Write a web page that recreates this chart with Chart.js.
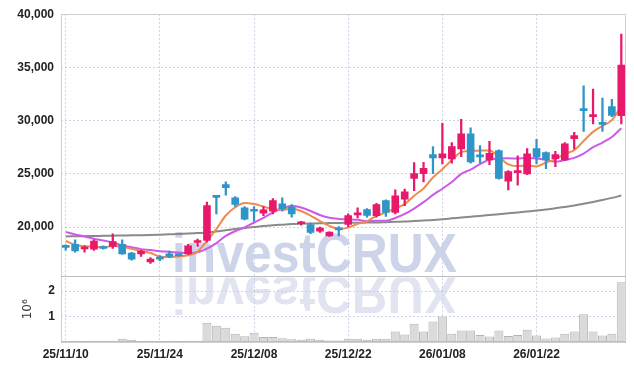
<!DOCTYPE html>
<html><head><meta charset="utf-8">
<script src="https://cdn.jsdelivr.net/npm/chart.js@4.4.1/dist/chart.umd.min.js"></script>
<style>html,body{margin:0;padding:0;background:#fff}#wrap{width:634px;height:370px}</style>
</head><body><div id="wrap"><canvas id="c" width="634" height="370"></canvas></div>
<script>
const dates = ['25/11/10','25/11/11','25/11/12','25/11/13','25/11/14','25/11/17','25/11/18','25/11/19','25/11/20','25/11/21','25/11/24','25/11/25','25/11/26','25/11/27','25/11/28','25/12/01','25/12/02','25/12/03','25/12/04','25/12/05','25/12/08','25/12/09','25/12/10','25/12/11','25/12/12','25/12/15','25/12/16','25/12/17','25/12/18','25/12/19','25/12/22','25/12/23','25/12/24','25/12/26','25/12/29','25/12/30','26/01/02','26/01/05','26/01/06','26/01/07','26/01/08','26/01/09','26/01/12','26/01/13','26/01/14','26/01/15','26/01/16','26/01/19','26/01/20','26/01/21','26/01/22','26/01/23','26/01/26','26/01/27','26/01/28','26/01/29','26/01/30','26/02/02','26/02/03','26/02/04'];
const opens  = [18150,18380,17950,17940,18190,18190,18380,17560,17500,16750,17190,17500,17440,17500,18560,18750,22940,24000,22760,21820,21630,21310,21500,22190,21880,20320,20250,19630,19190,19850,20250,21150,21660,21070,22500,21380,22630,24570,25030,26820,26510,26420,27350,28760,26760,26320,27190,24320,25130,25000,27380,27000,26440,26320,28320,31130,30380,29820,31320,30470];
const highs  = [18350,18820,18250,18820,18250,19380,18820,17650,17820,17150,17300,17750,17500,18400,18880,22350,23000,24260,22880,21940,21940,21940,22690,22760,22130,20560,20380,20000,19560,20060,21250,21820,21750,22250,22570,23510,23570,26070,26100,27570,29760,27950,30130,29320,27660,28070,27260,25320,26700,27380,28250,27070,27130,27950,28910,33280,32970,32130,32000,38130];
const lows   = [17850,17650,17650,17820,17930,18000,17440,16900,17250,16600,16850,17130,17250,17440,18190,18600,21250,23000,21940,20690,20560,21070,21250,21500,20940,20190,19380,19500,19130,19190,20060,20880,20940,20940,21000,21250,22010,23440,24260,25030,25950,26000,26630,26000,26000,25880,24500,23510,23940,24940,25950,25500,25690,26250,27350,29000,29690,29000,30370,29690];
const closes = [18100,17770,18050,18690,18000,18660,17500,17000,17750,17000,17000,17250,17320,18250,18690,22040,22800,23700,22130,20750,21500,21630,22500,21750,21250,20470,19500,19910,19530,19750,21100,21250,21100,22130,21380,22940,23320,25030,25530,26510,26880,27570,28760,26130,26600,26940,24570,25220,25320,26880,26570,26320,26820,27820,28600,30940,30570,29660,30500,35220];
const volumes = [20000,50000,20000,50000,50000,50000,130000,90000,20000,50000,20000,50000,20000,50000,50000,760000,640000,560000,320000,230000,360000,200000,200000,150000,110000,90000,130000,90000,60000,60000,130000,130000,90000,130000,130000,410000,300000,720000,410000,810000,1000000,320000,450000,450000,280000,220000,450000,240000,280000,480000,260000,140000,180000,320000,410000,1090000,410000,260000,320000,2350000];
const ma5 = [18700,18350,18200,18180,18120,18230,18180,17970,17780,17580,17250,17200,17260,17360,17700,18710,19820,21100,21870,22280,22180,21940,21700,21630,21730,21520,21090,20580,20130,19830,19960,20310,20550,21070,21390,21760,22170,22960,23640,24670,25450,26300,27050,27170,27190,27200,26600,25890,25730,25790,25710,26060,26380,26880,27230,28100,28950,29520,30050,31380];
const ma10 = [19560,19310,19130,18910,18750,18560,18310,18120,17940,17850,17740,17690,17620,17570,17640,17980,18510,19180,19620,19990,20440,20880,21400,21750,22010,21850,21520,21140,20880,20780,20740,20700,20560,20600,20610,20860,21240,21750,22350,23030,23610,24240,25010,25410,25930,26330,26450,26470,26450,26490,26460,26330,26140,26310,26510,26910,27510,27950,28470,29300];
const maLong = [19130,19145,19160,19175,19190,19205,19220,19235,19250,19270,19300,19330,19360,19400,19450,19500,19600,19710,19830,19930,20020,20110,20180,20240,20300,20330,20350,20370,20385,20400,20410,20420,20430,20440,20470,20500,20530,20580,20630,20680,20750,20830,20910,20990,21060,21140,21220,21300,21380,21470,21560,21660,21780,21900,22040,22200,22370,22550,22750,22970];
const priceTicks = [20000,25000,30000,35000,40000];
const volumeTicks = [1000000,2000000];

const UP = '#e8196b', DOWN = '#2f95c8';
const candleColors = opens.map((o,i)=> closes[i] >= o ? UP : DOWN);
const bodyData = opens.map((o,i)=>[o, closes[i]]);
const wickData = lows.map((l,i)=>[l, highs[i]]);

const tickFont = {family:'"Liberation Sans", Arial, sans-serif', size:12, weight:'bold'};
const gridColor = 'rgba(175,180,215,0.6)';

const framePlugin = {
  id:'frame',
  beforeDatasetsDraw(chart){
    const ctx = chart.ctx, yv = chart.scales.yv;
    const txt = 'investCRUX';
    ctx.save();
    ctx.font = 'bold 56px "Liberation Sans", Arial, sans-serif';
    const w = ctx.measureText(txt).width;
    const sx = 285 / w;
    const left = 172, base = 272;
    ctx.fillStyle = 'rgba(196,203,228,0.85)';
    ctx.save();
    ctx.translate(left, base);
    ctx.scale(sx, 1);
    ctx.fillText(txt, 0, 0);
    ctx.restore();
    ctx.save();
    ctx.beginPath();
    ctx.rect(0, yv.top + 1, chart.width, 40);
    ctx.clip();
    const g = ctx.createLinearGradient(0, yv.top, 0, yv.top + 38);
    g.addColorStop(0, 'rgba(200,206,228,0.55)');
    g.addColorStop(1, 'rgba(200,206,228,0.25)');
    ctx.fillStyle = g;
    ctx.translate(left, base + 4);
    ctx.scale(sx, -0.95);
    ctx.fillText(txt, 0, 0);
    ctx.restore();
    ctx.restore();
  },
  afterDraw(chart){
    const ctx = chart.ctx, a = chart.chartArea, yv = chart.scales.yv;
    ctx.save();
    ctx.lineWidth = 1;
    ctx.strokeStyle = '#cfcfcf';
    ctx.strokeRect(Math.round(a.left)+0.5, Math.round(a.top)+0.5, Math.round(a.right - a.left)-1, Math.round(a.bottom - a.top));
    ctx.strokeStyle = '#bdbdbd';
    ctx.beginPath();
    ctx.moveTo(a.left, Math.round(yv.top)+0.5);
    ctx.lineTo(a.right, Math.round(yv.top)+0.5);
    ctx.moveTo(a.left, Math.round(a.bottom)-0.5);
    ctx.lineTo(a.right, Math.round(a.bottom)-0.5);
    ctx.stroke();
    ctx.restore();
  }
};

new Chart(document.getElementById('c'), {
  type:'bar',
  data:{
    labels: dates,
    datasets:[
      {label:'body', data: bodyData, yAxisID:'y', backgroundColor: candleColors, barThickness:7, grouped:false, minBarLength:2, borderWidth:0},
      {label:'wick', data: wickData, yAxisID:'y', backgroundColor: candleColors, barThickness:1.6, grouped:false, borderWidth:0},
      {type:'line', label:'MA5', data: ma5, yAxisID:'y', borderColor:'#f08a4b', borderWidth:2, pointRadius:0, cubicInterpolationMode:'monotone', fill:false},
      {type:'line', label:'MA10', data: ma10, yAxisID:'y', borderColor:'#cc5ae8', borderWidth:2, pointRadius:0, cubicInterpolationMode:'monotone', fill:false},
      {type:'line', label:'MA', data: maLong, yAxisID:'y', borderColor:'#8a8a8a', borderWidth:2, pointRadius:0, cubicInterpolationMode:'monotone', fill:false},
      {label:'volume', data: volumes, yAxisID:'yv', backgroundColor:'#dadada', borderColor:'#b4b4b4', borderWidth:1, categoryPercentage:1, barPercentage:0.96, grouped:false}
    ]
  },
  options:{
    responsive:false, animation:false, devicePixelRatio:1,
    layout:{padding:{top:14, right:8, left:0, bottom:0}},
    plugins:{legend:{display:false}, tooltip:{enabled:false}},
    scales:{
      x:{
        type:'category', offset:true,
        grid:{offset:false, color:gridColor, drawTicks:false},
        border:{display:false, dash:[2,2]},
        ticks:{autoSkip:false, maxRotation:0, padding:5, font:tickFont, color:'#222'},
        afterBuildTicks(s){ s.ticks = s.ticks.filter(t => t.value % 10 === 0); },
        afterFit(s){ s.height = 28; }
      },
      yv:{
        type:'linear', position:'left', stack:'panel', stackWeight:1,
        min:0, max:2580000,
        grid:{color:gridColor, drawTicks:false},
        border:{display:false, dash:[2,2]},
        ticks:{padding:6, font:tickFont, color:'#222', callback:v => String(v/1000000)},
        title:{display:true, text:'10⁶', color:'#333', font:{family:'"DejaVu Sans", sans-serif', size:12}, padding:{top:21, bottom:0}},
        afterBuildTicks(s){ s.ticks = volumeTicks.map(v => ({value:v})); },
        afterFit(s){ s.width = 61; }
      },
      y:{
        type:'linear', position:'left', stack:'panel', stackWeight:4,
        min:15375, max:40000,
        grid:{color:gridColor, drawTicks:false},
        border:{display:false, dash:[2,2]},
        ticks:{padding:7, font:tickFont, color:'#222', callback:v => v.toLocaleString('en-US')},
        afterBuildTicks(s){ s.ticks = priceTicks.map(v => ({value:v})); },
        afterFit(s){ s.width = 61; }
      }
    }
  },
  plugins:[framePlugin]
});
</script></body></html>
